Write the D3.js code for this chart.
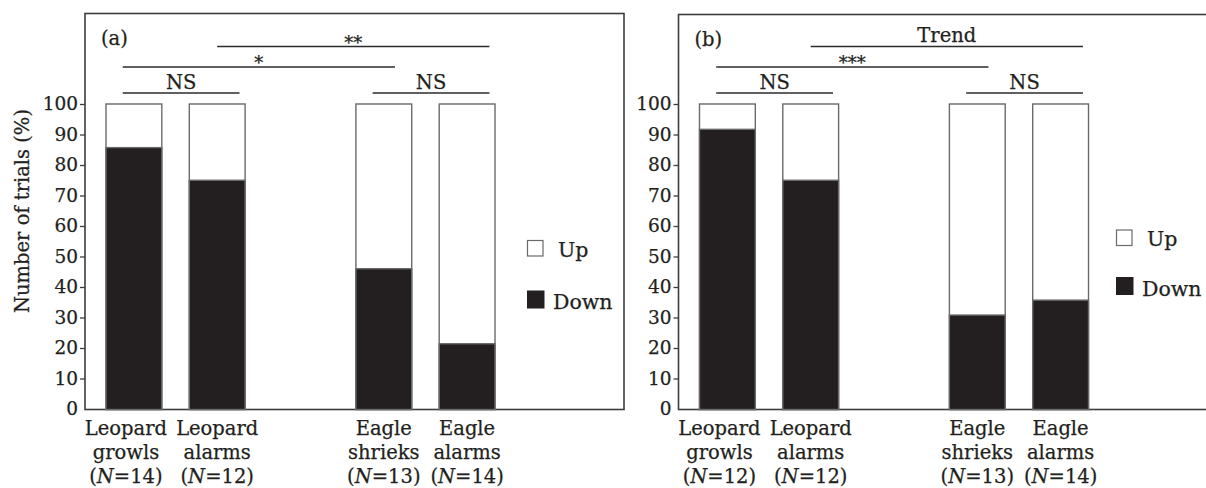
<!DOCTYPE html>
<html>
<head>
<meta charset="utf-8">
<script src="https://cdn.jsdelivr.net/npm/d3@7"></script>
<style>
	body { margin: 0; background: #fff; }
	svg text { font-family: "DejaVu Serif", "Liberation Serif", serif; fill: #231f20; stroke: #231f20; stroke-width: 0.25px; }
</style>
</head>
<body>
<script>
// data
var catTop = ['Leopard', 'Leopard', 'Eagle', 'Eagle'];
var catBottom = ['growls', 'alarms', 'shrieks', 'alarms'];
var nA = [14, 12, 13, 14];
var nB = [12, 12, 13, 14];
var downA = [85.7, 75, 46, 21.4];
var downB = [91.7, 75, 30.8, 35.7];
var yTicks = [0, 10, 20, 30, 40, 50, 60, 70, 80, 90, 100];
var legendLabels = ['Up', 'Down'];
// brackets: [from bar, to bar, level, label]
var sigA = [[0, 1, 0, 'NS'], [2, 3, 0, 'NS'], [0, 2, 1, '*'], [1, 3, 2, '**']];
var sigB = [[0, 1, 0, 'NS'], [2, 3, 0, 'NS'], [0, 2, 1, '***'], [1, 3, 2, 'Trend']];

var width = 1206,
	height = 488;

var svg = d3.select('body').append('svg')
	.attr('width', width)
	.attr('height', height);

var frameBottom = 409.5,
	frameW = 539;

var y = d3.scaleLinear()
	.domain([0, 100])
	.range([409, 104]);

var dark = '#231f20',
	edge = '#6a6a6a';

function drawPanel(opt) {
	var g = svg.append('g').attr('transform', 'translate(' + opt.left + ',0)');
	var keys = ['c0', 'c1', 'gap', 'c2', 'c3'];
	var x = d3.scaleBand()
		.domain(keys)
		.range([21, 21 + 83.3 * 4.67])
		.paddingInner(0.33)
		.paddingOuter(0);
	var bw = x.bandwidth();
	var bx = function (i) { return x(['c0', 'c1', 'c2', 'c3'][i]); };

	// frame
	g.append('rect')
		.attr('x', 0).attr('y', opt.top)
		.attr('width', frameW).attr('height', frameBottom - opt.top)
		.attr('fill', 'none').attr('stroke', '#3d3d3d').attr('stroke-width', 1.6);

	var ax = g.append('g').call(d3.axisLeft(y).tickValues(yTicks).tickSize(5).tickPadding(2));
	ax.select('.domain').remove();
	ax.selectAll('line').attr('stroke', '#3d3d3d').attr('stroke-width', 1.3);
	ax.selectAll('text')
		.style('font-size', '18.5px')
		.style('font-family', '"DejaVu Serif", serif')
		.attr('fill', dark);
	ax.selectAll('.tick').filter(function (d) { return d === 0; }).select('line').remove();

	// bars: up part (white) then down part (black)
	opt.down.forEach(function (v, i) {
		g.append('rect')
			.attr('x', bx(i)).attr('y', y(100))
			.attr('width', bw).attr('height', frameBottom - y(100))
			.attr('fill', '#fff').attr('stroke', edge).attr('stroke-width', 1.4);
		g.append('rect')
			.attr('x', bx(i)).attr('y', y(v))
			.attr('width', bw).attr('height', frameBottom - y(v))
			.attr('fill', dark).attr('stroke', edge).attr('stroke-width', 1.4);

		var cx = bx(i) + bw / 2 + (i === 0 ? -8 : 0);
		var t = g.append('text').attr('text-anchor', 'middle').style('font-size', '19.5px');
		t.append('tspan').attr('x', cx).attr('y', 435).text(catTop[i]);
		t.append('tspan').attr('x', cx).attr('y', 459).text(catBottom[i]);
		var t3 = t.append('tspan').attr('x', cx).attr('y', 483);
		t3.append('tspan').text('(');
		t3.append('tspan').style('font-style', 'italic').text('N');
		t3.append('tspan').text('=' + opt.n[i] + ')');
	});

	// significance brackets
	var lineY = [93, 67, 46.5];
	opt.sig.forEach(function (s) {
		var x1 = s[2] === 2 ? bx(s[0]) + bw * 0.5 : bx(s[0]) + bw * 0.3,
			x2 = s[2] === 1 ? bx(s[1]) + bw * 0.7 : bx(s[1]) + bw * 0.9,
			ly = lineY[s[2]];
		g.append('line')
			.attr('x1', x1).attr('x2', x2).attr('y1', ly).attr('y2', ly)
			.attr('stroke', '#2b2b2b').attr('stroke-width', 1.5);
		var star = s[3].indexOf('*') === 0;
		g.append('text')
			.attr('x', (x1 + x2) / 2)
			.attr('y', star ? ly + 2 : ly - 4.5)
			.attr('text-anchor', 'middle')
			.style('font-size', star ? '18px' : '19.5px')
			.text(s[3]);
	});

	g.append('text')
		.attr('x', 16).attr('y', opt.top + 31)
		.style('font-size', '19.5px')
		.text(opt.tag);

	// legend
	var lg = g.append('g').attr('transform', 'translate(' + opt.legX + ',' + opt.legY + ')');
	lg.append('rect').attr('x', 0.5).attr('y', 0.5).attr('width', 15.5).attr('height', 15.5)
		.attr('fill', '#fff').attr('stroke', edge).attr('stroke-width', 1.2);
	lg.append('text').attr('x', 31).attr('y', 16.5).style('font-size', '20.5px').text(legendLabels[0]);
	lg.append('rect').attr('x', 0).attr('y', opt.legGap).attr('width', 17.5).attr('height', 18)
		.attr('fill', dark);
	lg.append('text').attr('x', 26).attr('y', opt.legGap + 18.5).style('font-size', '20.5px').text(legendLabels[1]);
}

drawPanel({ left: 85, top: 13.5, down: downA, n: nA, sig: sigA, tag: '(a)', legX: 442, legY: 240, legGap: 50.5 });
drawPanel({ left: 678.5, top: 14.5, down: downB, n: nB, sig: sigB, tag: '(b)', legX: 437.5, legY: 229.5, legGap: 47.5 });

svg.append('text')
	.attr('transform', 'translate(29,211) rotate(-90)')
	.attr('text-anchor', 'middle')
	.style('font-size', '19.5px')
	.text('Number of trials (%)');
</script>
</body>
</html>
